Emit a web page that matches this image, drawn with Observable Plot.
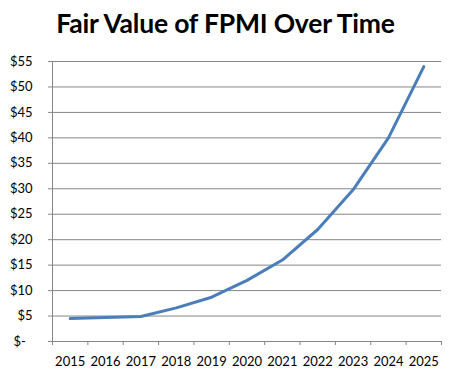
<!DOCTYPE html>
<html>
<head>
<meta charset="utf-8">
<script src="https://cdn.jsdelivr.net/npm/d3@7"></script>
<script src="https://cdn.jsdelivr.net/npm/@observablehq/plot@0.6"></script>
<style>
  html, body { margin: 0; padding: 0; background: #fff; }
  #wrap { width: 449px; height: 377px; overflow: hidden; }
  #title { height: 45px; margin: 0; font-family: Lato, sans-serif; font-weight: 700; font-size: 26.5px; letter-spacing: -0.2px; line-height: 45px; text-align: center; color: #000; position: relative; top: 1px; left: 1px; }
  svg { display: block; }
</style>
</head>
<body>
<div id="wrap">
  <div id="title">Fair Value of FPMI Over Time</div>
  <div id="chart"></div>
</div>
<script>
const years = [2015, 2016, 2017, 2018, 2019, 2020, 2021, 2022, 2023, 2024, 2025];
const values = [4.5, 4.7, 4.9, 6.6, 8.7, 12, 16, 22, 29.8, 40, 54];
const yTicks = [0, 5, 10, 15, 20, 25, 30, 35, 40, 45, 50, 55];

const data = years.map((y, i) => ({year: y, value: values[i]}));
const bounds = years.map(y => y - 0.5).concat([years[years.length - 1] + 0.5]);
const grid = "#868686";

const chart = Plot.plot({
  width: 449,
  height: 332,
  marginTop: 16,
  marginBottom: 36,
  marginLeft: 52,
  marginRight: 8,
  style: {fontFamily: "Lato, sans-serif", fontSize: "13px", color: "#000", background: "#fff"},
  x: {domain: [bounds[0], bounds[bounds.length - 1]], axis: null},
  y: {domain: [0, 55], axis: null},
  marks: [
    Plot.ruleY(yTicks, {stroke: grid, strokeWidth: 1, strokeOpacity: 1}),
    Plot.ruleX([bounds[0]], {stroke: grid, strokeWidth: 1}),
    Plot.axisY({ticks: yTicks, tickSize: 4, tickPadding: 16, stroke: grid, fill: "#000", label: null,
      tickFormat: d => d === 0 ? "$-\u00a0\u00a0" : "$" + d}),
    Plot.axisX({ticks: bounds, tickSize: 4, tickFormat: () => "", stroke: grid, label: null}),
    Plot.axisX({ticks: years, tickSize: 0, tickPadding: 15, tickFormat: d => String(d), fill: "#000", label: null}),
    Plot.line(data, {x: "year", y: "value", stroke: "#4a7ebb", strokeWidth: 3, curve: "linear", strokeLinejoin: "round", strokeLinecap: "round"})
  ]
});
document.getElementById("chart").appendChild(chart);
</script>
</body>
</html>
